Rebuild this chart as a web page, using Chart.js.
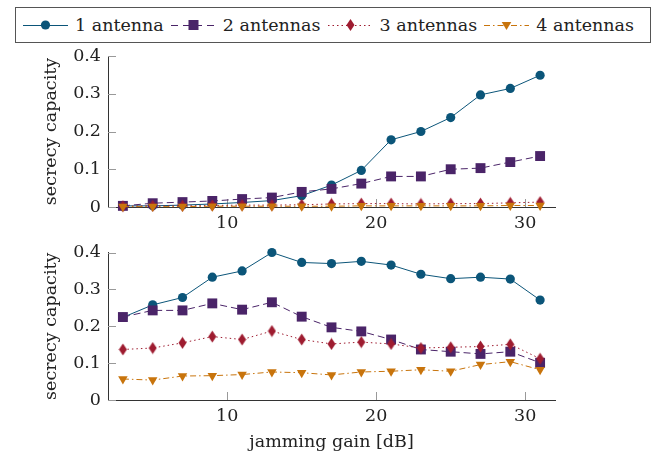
<!DOCTYPE html>
<html><head><meta charset="utf-8">
<script src="https://cdn.jsdelivr.net/npm/chart.js@4.4.0/dist/chart.umd.min.js"></script>
<style>
body{margin:0;background:#fff;width:664px;height:455px;position:relative;overflow:hidden;font-family:"DejaVu Serif",serif;}
#top{position:absolute;left:0;top:0;}
#bot{position:absolute;left:0;top:235px;}
#legend{position:absolute;left:15px;top:7px;width:636px;height:36px;box-sizing:border-box;border:1px solid #555;display:flex;align-items:center;padding-left:7px;font-size:17.5px;color:#222;background:#fff;white-space:nowrap;}
.item{display:flex;align-items:center;margin-right:7px;}
.item svg{margin-right:7px;}
</style></head><body>
<canvas id="top" width="664" height="235"></canvas>
<canvas id="bot" width="664" height="220"></canvas>
<div id="legend"></div>
<script>
// ---- data ----
const xValues = [3,5,7,9,11,13,15,17,19,21,23,25,27,29,31];
const xTicks = [10,20,30];
const yTicks = [0,0.1,0.2,0.3,0.4];
const seriesNames = ['1 antenna','2 antennas','3 antennas','4 antennas'];
// top panel
const top1 = [0.003,0.003,0.005,0.008,0.012,0.017,0.030,0.058,0.097,0.178,0.200,0.237,0.297,0.314,0.349];
const top2 = [0.003,0.010,0.013,0.016,0.021,0.025,0.040,0.048,0.062,0.081,0.081,0.100,0.103,0.119,0.135];
const top3 = [0.002,0.003,0.003,0.004,0.005,0.005,0.006,0.008,0.009,0.009,0.008,0.009,0.009,0.011,0.013];
const top4 = [0.001,0.001,0.001,0.002,0.002,0.002,0.002,0.002,0.003,0.003,0.003,0.003,0.003,0.004,0.004];
// bottom panel
const bot1 = [0.224,0.258,0.278,0.333,0.350,0.400,0.373,0.370,0.376,0.366,0.341,0.329,0.333,0.328,0.271];
const bot2 = [0.225,0.243,0.243,0.262,0.245,0.265,0.226,0.197,0.186,0.164,0.137,0.131,0.125,0.131,0.101];
const bot3 = [0.137,0.141,0.155,0.172,0.164,0.187,0.164,0.152,0.157,0.152,0.141,0.143,0.145,0.151,0.112];
const bot4 = [0.057,0.054,0.065,0.066,0.069,0.076,0.074,0.068,0.076,0.078,0.082,0.078,0.096,0.104,0.082];

// ---- styles ----
const colors = ['#0b5579','#4a2468','#9e1c30','#c8740c'];
const dashes = [[],[7,4],[1.5,3],[6,3,1.5,3]];
const FONT = '"DejaVu Serif", serif';
const TXT = '#222';

function diamond(color){
  const c=document.createElement('canvas'); c.width=9; c.height=13;
  const g=c.getContext('2d'); g.fillStyle=color; g.beginPath();
  g.moveTo(4.5,0.5); g.lineTo(8.5,6.5); g.lineTo(4.5,12.5); g.lineTo(0.5,6.5); g.closePath(); g.fill();
  return c;
}
const pStyles = ['circle','rect',diamond(colors[2]),'triangle'];
const pRadius = [4.6,7,5,5.5];
const pRot = [0,0,0,180];

function mkData(arrs){
  return {datasets: arrs.map((arr,i)=>({
    label: seriesNames[i],
    data: xValues.map((x,j)=>({x:x,y:arr[j]})),
    borderColor: colors[i], backgroundColor: colors[i],
    borderWidth: 1, borderDash: dashes[i],
    pointStyle: pStyles[i], pointRadius: pRadius[i], pointRotation: pRot[i],
    pointBorderWidth: 0, pointBackgroundColor: colors[i],
    order: 4-i, clip: false, tension: 0
  }))};
}

const insideTicks = {
  id:'insideTicks',
  beforeDatasetsDraw(chart){
    const {ctx, chartArea:a, scales:{x,y}} = chart;
    ctx.save(); ctx.strokeStyle='#999'; ctx.lineWidth=1; ctx.beginPath();
    x.ticks.forEach(t=>{const px=Math.round(x.getPixelForValue(t.value))+0.5; ctx.moveTo(px,a.bottom); ctx.lineTo(px,a.bottom-8);});
    y.ticks.forEach(t=>{const py=Math.round(y.getPixelForValue(t.value))+0.5; ctx.moveTo(a.left,py); ctx.lineTo(a.left+8,py);});
    ctx.stroke(); ctx.restore();
  }
};

function mkOptions(padTop, xHeight, showXTitle){
  return {
    responsive:false, animation:false, devicePixelRatio:1,
    layout:{autoPadding:false, padding:{left:0,right:109,top:padTop,bottom:0}},
    plugins:{legend:{display:false}, tooltip:{enabled:false}},
    scales:{
      x:{type:'linear', min:2, max:32,
        afterBuildTicks:s=>{s.ticks = xTicks.map(v=>({value:v}));},
        afterFit:s=>{s.height=xHeight;},
        grid:{display:false, drawTicks:false},
        border:{display:true,color:'#333',width:1},
        ticks:{padding:6, color:TXT, font:{family:FONT,size:17.5}, maxRotation:0, callback:v=>String(v)},
        title:{display:showXTitle, text:'jamming gain [dB]', color:TXT, font:{family:FONT,size:17.5}, padding:{top:0,bottom:2}}
      },
      y:{type:'linear', min:0, max:0.4,
        afterBuildTicks:s=>{s.ticks = yTicks.map(v=>({value:v}));},
        afterFit:s=>{s.width=108;},
        grid:{display:false, drawTicks:false},
        border:{display:true,color:'#333',width:1},
        ticks:{padding:7, color:TXT, font:{family:FONT,size:17.5}, callback:v=> v===0?'0':v.toFixed(1)},
        title:{display:true, text:'secrecy capacity', color:TXT, font:{family:FONT,size:17.5}, padding:{top:41,bottom:0}}
      }
    }
  };
}

new Chart(document.getElementById('top'), {type:'line', data:mkData([top1,top2,top3,top4]), options:mkOptions(56,28,false), plugins:[insideTicks]});
new Chart(document.getElementById('bot'), {type:'line', data:mkData([bot1,bot2,bot3,bot4]), options:mkOptions(14,55,true), plugins:[insideTicks]});

// ---- legend (HTML) ----
const markerSvg = [
  c=>`<circle cx="22.5" cy="8" r="4.6" fill="${c}"/>`,
  c=>`<rect x="17.5" y="3" width="10" height="10" fill="${c}"/>`,
  c=>`<polygon points="22.5,2 26.5,8 22.5,14 18.5,8" fill="${c}"/>`,
  c=>`<polygon points="17.7,5 27.3,5 22.5,13" fill="${c}"/>`
];
const legDash = [[],[7,5],[1.5,3],[6,3,1.5,3]];
const leg = document.getElementById('legend');
seriesNames.forEach((n,i)=>{
  const d = legDash[i].length ? `stroke-dasharray="${legDash[i].join(' ')}"` : '';
  const it = document.createElement('div'); it.className='item';
  it.innerHTML = `<svg width="45" height="16"><line x1="0" y1="8.5" x2="45" y2="8.5" stroke="${colors[i]}" stroke-width="1" ${d}/>${markerSvg[i](colors[i])}</svg><span>${n}</span>`;
  leg.appendChild(it);
});
</script>
</body></html>
